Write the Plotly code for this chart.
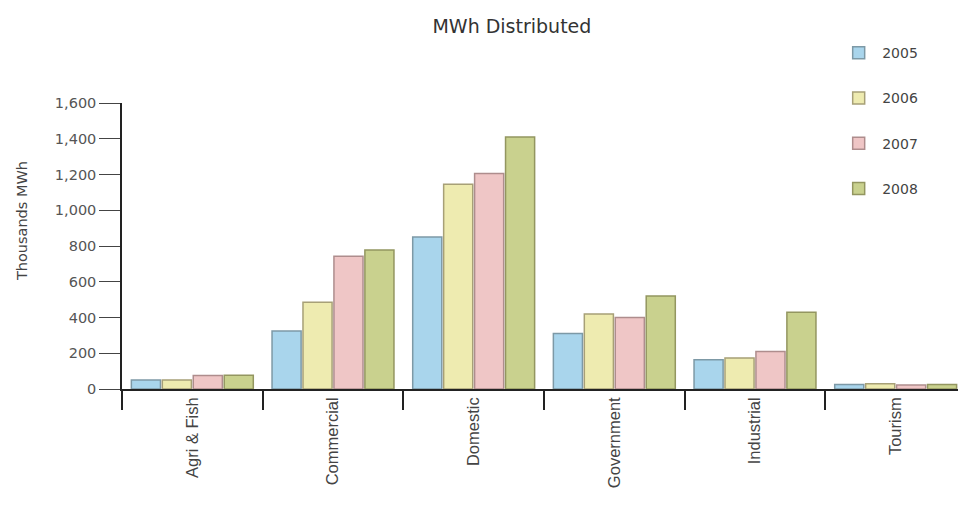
import plotly.graph_objects as go

categories = ["Agri & Fish", "Commercial", "Domestic", "Government", "Industrial", "Tourism"]
years = ["2005", "2006", "2007", "2008"]
v2005 = [50, 324, 850, 311, 163, 25]
v2006 = [50, 486, 1145, 420, 174, 30]
v2007 = [75, 743, 1205, 400, 210, 22]
v2008 = [77, 777, 1410, 520, 430, 25]
series = [v2005, v2006, v2007, v2008]
y_ticks = [0, 200, 400, 600, 800, 1000, 1200, 1400, 1600]

fills = ["#a9d5ec", "#eeebb0", "#efc6c6", "#c9d18e"]
edges = ["#7d99a6", "#a7a077", "#ae8d8d", "#939660"]

fig = go.Figure()
for i, (yr, vals) in enumerate(zip(years, series)):
    fig.add_trace(go.Bar(
        name=yr, x=categories, y=vals, legendgroup=yr,
        marker=dict(color=fills[i], line=dict(color=edges[i], width=1.5)),
    ))

font_family = "DejaVu Sans, sans-serif"
fig.update_layout(
    width=958, height=498,
    margin=dict(l=114, r=0, t=95, b=117, autoexpand=False),
    paper_bgcolor="white", plot_bgcolor="white",
    barmode="group", bargap=0.12, bargroupgap=0.06,
    font=dict(family=font_family, color="#444", size=13),
    title=dict(text="MWh Distributed", xref="paper", x=0.462, xanchor="center",
               y=0.964, yanchor="middle",
               font=dict(size=19, color="#333", family=font_family)),
    showlegend=True,
    legend=dict(x=0.845, xanchor="left", y=1.23, yanchor="top",
                traceorder="grouped", tracegroupgap=24, itemwidth=37,
                font=dict(size=14, color="#444"), bgcolor="rgba(0,0,0,0)"),
    xaxis=dict(showline=True, linecolor="#222", linewidth=1.5, automargin=False,
               ticks="outside", tickson="boundaries", ticklen=19, tickcolor="#222", tickwidth=1.5,
               tickangle=-90,
               tickfont=dict(size=16.5, color="#444", family="Liberation Sans, Arial, sans-serif"),
               showgrid=False),
    yaxis=dict(range=[0, 1600], tickvals=y_ticks, tickformat=",", automargin=False,
               showline=True, linecolor="#222", linewidth=1.5,
               ticks="outside", ticklen=21, tickcolor="#444", tickwidth=1,
               showgrid=False, zeroline=False,
               tickfont=dict(size=14.5, color="#555")),
    annotations=[dict(text="Thousands MWh", xref="paper", yref="paper", x=0, y=0.587,
                      xanchor="center", yanchor="middle", xshift=-100, textangle=-90,
                      showarrow=False, font=dict(size=14.5, color="#444", family=font_family))],
)
fig.write_html("out.html")
